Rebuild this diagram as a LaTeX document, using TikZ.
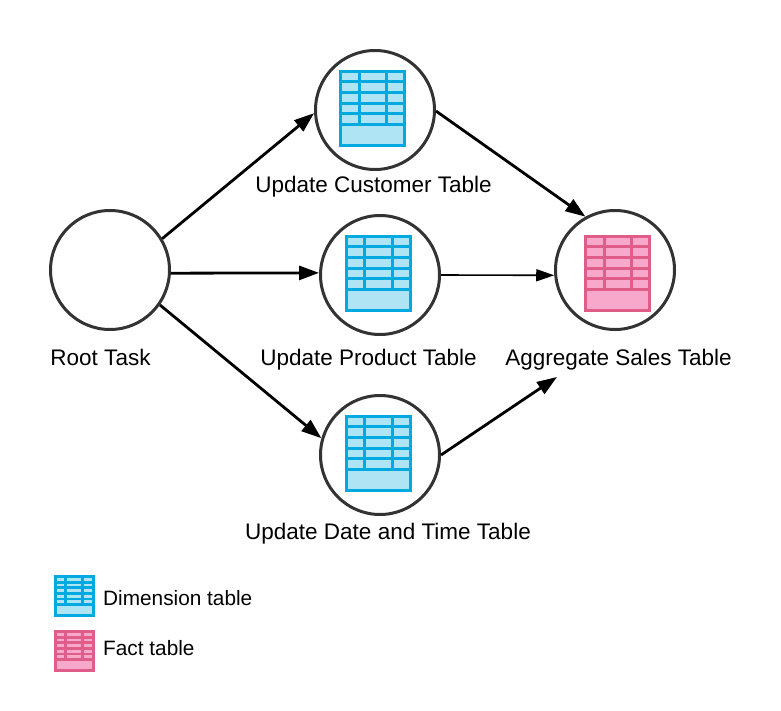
\documentclass[tikz,border=0pt]{standalone}
\usepackage{fontspec}
\setmainfont{Liberation Sans}
\usetikzlibrary{arrows.meta}
\definecolor{dimdark}{HTML}{00A9E0}
\definecolor{dimlight}{HTML}{AFE4F5}
\definecolor{factdark}{HTML}{E05C89}
\definecolor{factlight}{HTML}{F8A8CA}
\definecolor{ringcol}{HTML}{333333}
\tikzset{
  task vertex/.style={circle,draw=ringcol,fill=white,minimum size=119pt,
    inner sep=0pt,line width=3pt},
  task label/.style={font=\fontsize{22.5}{26}\selectfont,inner sep=0pt,text=black},
  legend label/.style={font=\fontsize{20.8}{24}\selectfont,inner sep=0pt,
    anchor=west,text=black},
  task edge/.style={-{Stealth[length=20pt,width=14pt,inset=0pt]},line width=2.8pt,black},
  thin edge/.style={-{Stealth[length=18pt,width=12pt,inset=0pt]},line width=1.6pt,black},
  pics/table big/.style 2 args={code={
    \fill[#1] (0,0) rectangle (67,77);
    \foreach \top/\bot in {3/10.2,13/21,24/32,35/42,45/53}
      \foreach \lft/\rgt in {3/18.5,21.5/46,49.3/64}
        \fill[#2] (\lft,\top) rectangle (\rgt,\bot);
    \fill[#2] (3,56) rectangle (64,74);
  }},
  pics/table small/.style 2 args={code={
    \fill[#1] (0,0) rectangle (41,42);
    \foreach \top/\bot in {3/6,8.7/11.3,13.7/17,19.7/23,25.4/28.3}
      \foreach \lft/\rgt in {2.7/10.3,13/27,29.7/38.3}
        \fill[#2] (\lft,\top) rectangle (\rgt,\bot);
    \fill[#2] (2.7,31.3) rectangle (38.3,39.3);
  }}
}
\begin{document}
\begin{tikzpicture}[x=1pt,y=-1pt]
  \useasboundingbox (0,0) rectangle (781,711);
  % tasks
  \node[task vertex] (root) at (110,270) {};
  \node[task vertex] (customer) at (375,110) {};
  \node[task vertex] (product) at (380,275) {};
  \node[task vertex] (datetime) at (380,455) {};
  \node[task vertex] (sales) at (615,270) {};
  % table icons
  \pic at (339,70) {table big={dimdark}{dimlight}};
  \pic at (344.5,235) {table big={dimdark}{dimlight}};
  \pic at (344.5,415) {table big={dimdark}{dimlight}};
  \pic at (584,235) {table big={factdark}{factlight}};
  % labels
  \node[task label] (rootlabel) at (100.5,357.5) {Root Task};
  \node[task label] (customerlabel) at (373.5,187) {Update Customer Table};
  \node[task label] (productlabel) at (368.5,359.5) {Update Product Table};
  \node[task label] (datetimelabel) at (388,534) {Update Date and Time Table};
  \node[task label] (saleslabel) at (618.5,359.5) {Aggregate Sales Table};
  \coordinate (salesin) at (557,377);
  % dependencies
  \draw[task edge] (root.31) -- (customer.183);
  \draw[task edge] (root.-3) -- (product.178);
  \draw[task edge] (root.-35) -- (datetime.164);
  \draw[task edge] (customer.-1) -- (sales.119);
  \draw[thin edge] (product.0) -- (sales.-175);
  \draw[task edge] (datetime.0) -- (salesin);
  % legend
  \pic at (54,575) {table small={dimdark}{dimlight}};
  \pic at (54,630) {table small={factdark}{factlight}};
  \node[legend label] (dimlabel) at (103,598) {Dimension table};
  \node[legend label] (factlabel) at (103,648) {Fact table};
\end{tikzpicture}
\end{document}
